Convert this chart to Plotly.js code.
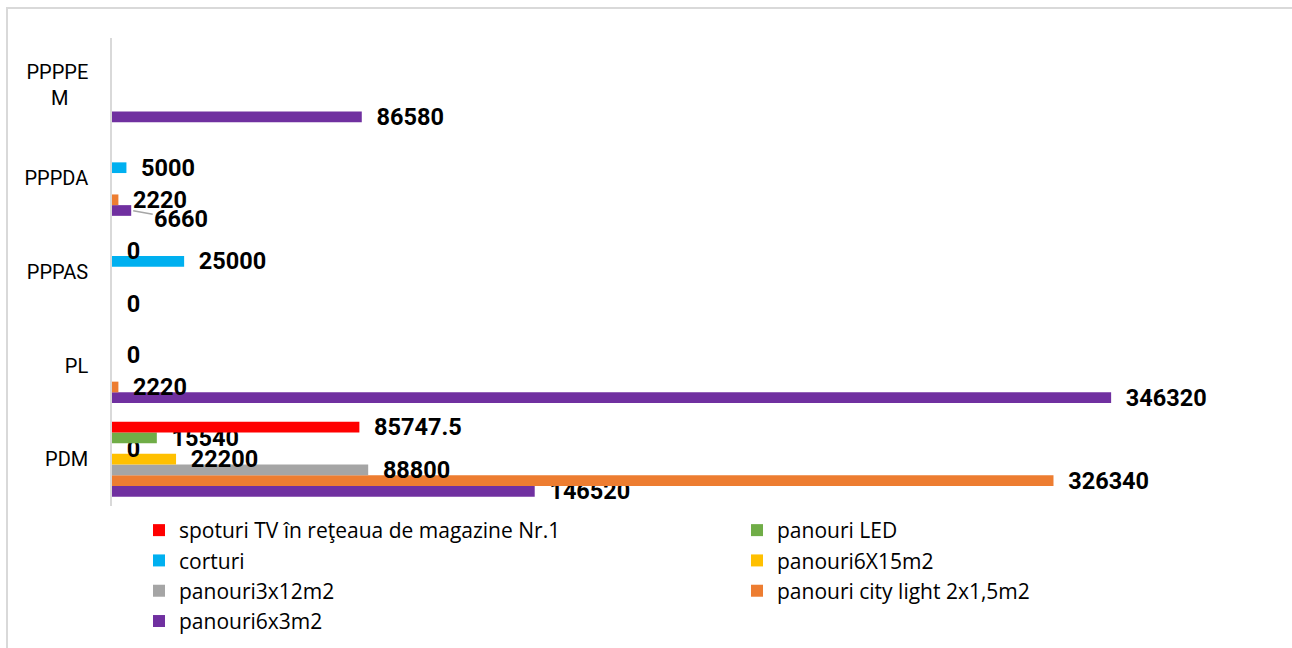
<!DOCTYPE html>
<html><head><meta charset="utf-8">
<script src="https://cdn.plot.ly/plotly-3.0.1.min.js"></script>
<style>
html,body{margin:0;padding:0;background:#fff;overflow:hidden}
#chart{position:absolute;left:0;top:0;width:1292px;height:648px}
#frame{position:absolute;left:6px;top:7px;width:1400px;height:800px;border:2px solid #d9d9d9;box-sizing:border-box;pointer-events:none;z-index:2}
</style></head><body>
<div id="chart"></div>
<div id="frame"></div>
<script>
// categories bottom -> top
const categories = ['PDM', 'PL', 'PPPAS', 'PPPDA', 'PPPPEM'];
const categoryLabels = ['PDM', 'PL', 'PPPAS', 'PPPDA', 'PPPPE<br>M\u00a0\u00a0\u00a0\u00a0'];

const nameSpoturi = 'spoturi TV în reţeaua de magazine Nr.1';
const nameLED = 'panouri LED';
const nameCorturi = 'corturi';
const name6x15 = 'panouri6X15m2';
const name3x12 = 'panouri3x12m2';
const nameCity = 'panouri city light 2x1,5m2';
const name6x3 = 'panouri6x3m2';

const spoturiTV   = [85747.5, null, null, null, null];
const panouriLED  = [15540, null, 0, null, null];
const corturi     = [0, 0, 25000, 5000, null];
const panouri6x15 = [22200, null, null, null, null];
const panouri3x12 = [88800, null, null, null, null];
const cityLight   = [326340, 2220, null, 2220, null];
const panouri6x3  = [146520, 346320, 0, 6660, 86580];

// label of panouri6x3m2 at PPPDA is drawn with a leader line (as in the original)
const leaderIndex = 3;

const BARGAP = 0.2;
const NSERIES = 7;

// drawing order: first trace is lowest bar in each group
const series = [
  {name: name6x3,     x: panouri6x3,  color: '#7030A0', legend: 'legend',  rank: 7},
  {name: nameCity,    x: cityLight,   color: '#ED7D31', legend: 'legend2', rank: 6},
  {name: name3x12,    x: panouri3x12, color: '#A5A5A5', legend: 'legend',  rank: 5},
  {name: name6x15,    x: panouri6x15, color: '#FFC000', legend: 'legend2', rank: 4},
  {name: nameCorturi, x: corturi,     color: '#00B0F0', legend: 'legend',  rank: 3},
  {name: nameLED,     x: panouriLED,  color: '#70AD47', legend: 'legend2', rank: 2},
  {name: nameSpoturi, x: spoturiTV,   color: '#FF0000', legend: 'legend',  rank: 1}
];

const labelTpl = '\u00a0\u00a0%{x:.10~g}';

const traces = series.map((s, i) => ({
  type: 'bar',
  orientation: 'h',
  name: s.name,
  x: s.x,
  y: categories,
  legend: s.legend,
  legendgroup: 'g' + i,
  legendrank: s.rank,
  marker: {color: s.color},
  texttemplate: i === 0 ? s.x.map((v, k) => k === leaderIndex ? '' : labelTpl) : labelTpl,
  textposition: 'outside',
  constraintext: 'none',
  cliponaxis: false,
  textfont: {family: 'Roboto', size: 23.5, color: '#000', weight: 700},
  hoverinfo: 'x+name'
}));

// position of the first (lowest) bar inside a category group, in category units
const firstBarOffset = -(1 - BARGAP) / 2 + (1 - BARGAP) / NSERIES / 2;

const annotations = [{
  x: panouri6x3[leaderIndex],
  y: leaderIndex + firstBarOffset,
  xref: 'x', yref: 'y',
  text: String(panouri6x3[leaderIndex]),
  showarrow: true,
  arrowhead: 0,
  arrowwidth: 1.5,
  arrowcolor: '#a6a6a6',
  standoff: 2,
  ax: 50, ay: 9,
  font: {family: 'Roboto', size: 23.5, color: '#000', weight: 700}
}];

const legendCommon = {
  orientation: 'v',
  traceorder: 'grouped',
  tracegroupgap: 0,
  font: {family: 'Open Sans', size: 21, color: '#000'},
  bgcolor: 'rgba(0,0,0,0)',
  itemwidth: 30,
  xanchor: 'left',
  yanchor: 'top',
  y: -0.0085
};

const layout = {
  width: 1292,
  height: 648,
  margin: {l: 112, r: 26, t: 38, b: 142, autoexpand: false},
  paper_bgcolor: 'rgba(0,0,0,0)',
  plot_bgcolor: 'rgba(0,0,0,0)',
  barmode: 'group',
  bargap: BARGAP,
  bargroupgap: 0,
  showlegend: true,
  annotations: annotations,
  xaxis: {
    range: [0, 400000],
    showgrid: false, zeroline: false, showline: false,
    showticklabels: false, ticks: ''
  },
  yaxis: {
    type: 'category',
    categoryorder: 'array',
    categoryarray: categories,
    tickvals: categories,
    ticktext: categoryLabels,
    showgrid: false, zeroline: false,
    showline: true, linecolor: '#d9d9d9', linewidth: 1.5,
    ticks: 'outside', ticklen: 18, tickcolor: 'rgba(0,0,0,0)',
    tickfont: {family: 'Roboto', size: 20, color: '#000'}
  },
  legend: Object.assign({}, legendCommon, {x: 0.0234}),
  legend2: Object.assign({}, legendCommon, {x: 0.5416})
};

Plotly.newPlot('chart', traces, layout, {displayModeBar: false, responsive: false});
</script>
</body></html>
